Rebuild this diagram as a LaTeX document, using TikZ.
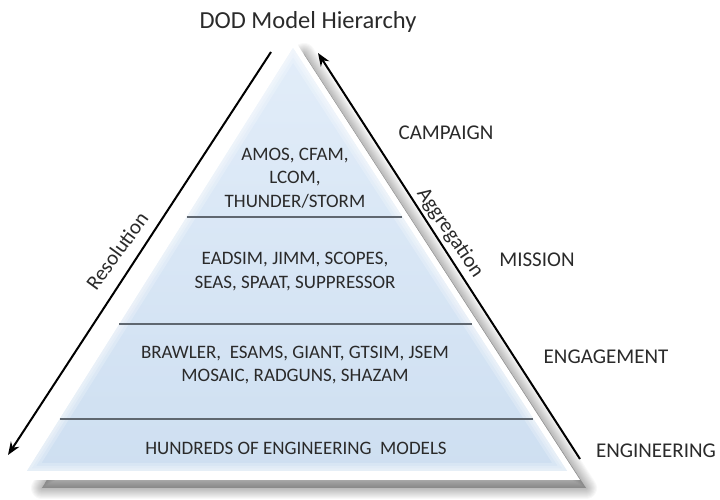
\documentclass[tikz,border=0pt]{standalone}
\usepackage{fontspec}
\setmainfont{Carlito}
\usetikzlibrary{arrows.meta,calc}
\definecolor{inktext}{HTML}{2A2A2A}
\definecolor{layertop}{HTML}{E2EDF9}
\definecolor{layerbot}{HTML}{CEDFF1}
\definecolor{divider}{HTML}{5F6770}
\begin{document}
\begin{tikzpicture}[x=1pt,y=1pt,
  title/.style={text=inktext,font=\fontsize{24.5}{28}\selectfont},
  tier/.style={text=inktext,font=\fontsize{21}{24}\selectfont},
  models/.style={text=inktext,align=center,font=\fontsize{19}{23.5}\selectfont},
  axislabel/.style={text=inktext,font=\fontsize{21}{24}\selectfont},
  flow/.style={line width=2pt,-{Stealth[length=13pt,width=10pt]}},
  divline/.style={divider,line width=1.4pt}]
\useasboundingbox (0,0) rectangle (720,500);

% corner points of the pyramid, its bevel and its shadow
\coordinate (sA) at (304,446);
\coordinate (sL) at (42,12);
\coordinate (sR) at (586,12);
\coordinate (wA) at (297,456);
\coordinate (wL) at (22,20);
\coordinate (wR) at (580,20);
\coordinate (bA) at (293,452);
\coordinate (bL) at (27,29);
\coordinate (bR) at (567,29);

% soft drop shadow, built from thin translucent layers
\foreach \w in {22,20,...,2}
  \filldraw[black,opacity=0.028,line width=\w pt,line join=round]
    (sA) -- (sL) -- (sR) -- cycle;

% white bevel and blue body
\fill[white] (wA) -- (wL) -- (wR) -- cycle;
\shade[top color=layertop,bottom color=layerbot] (bA) -- (bL) -- (bR) -- cycle;
\begin{scope}
  \clip (bA) -- (bL) -- (bR) -- cycle;
  \foreach \w in {16,10,5}
    \draw[white,opacity=0.22,line width=\w pt,line join=round] (bA) -- (bL) -- (bR) -- cycle;
\end{scope}

% dividers between the levels
\draw[divline] ($(bA)!0.3995!(bL)$) -- ($(bA)!0.3995!(bR)$);
\draw[divline] ($(bA)!0.6525!(bL)$) -- ($(bA)!0.6525!(bR)$);
\draw[divline] ($(bA)!0.877!(bL)$) -- ($(bA)!0.877!(bR)$);

% title
\node[title] (head) at (308,478) {DOD Model Hierarchy};

% models in each level
\node[models] (campm) at (295,322) {AMOS, CFAM,\\LCOM,\\THUNDER/STORM};
\node[models] (missm) at (295,228.5) {EADSIM, JIMM, SCOPES,\\SEAS, SPAAT, SUPPRESSOR};
\node[models] (engm) at (295,135) {BRAWLER,\ \ ESAMS, GIANT, GTSIM, JSEM\\MOSAIC, RADGUNS, SHAZAM};
\node[models] (engr) at (296,52) {HUNDREDS OF ENGINEERING\ \ MODELS};

% level names
\node[tier] (camp) at (446,367) {CAMPAIGN};
\node[tier] (miss) at (537,240) {MISSION};
\node[tier] (enga) at (606,143) {ENGAGEMENT};
\node[tier] (engi) at (656,49) {ENGINEERING};

% resolution and aggregation axes
\coordinate (resTop) at (271,448);
\coordinate (resEnd) at (8,45);
\coordinate (aggBot) at (580,41);
\coordinate (aggEnd) at (318,447);
\draw[flow] (resTop) -- (resEnd);
\draw[flow] (aggBot) -- (aggEnd);
\node[axislabel,rotate=54] (res) at (117,249) {Resolution};
\node[axislabel,rotate=-56] (agg) at (450,267) {Aggregation};
\end{tikzpicture}
\end{document}
